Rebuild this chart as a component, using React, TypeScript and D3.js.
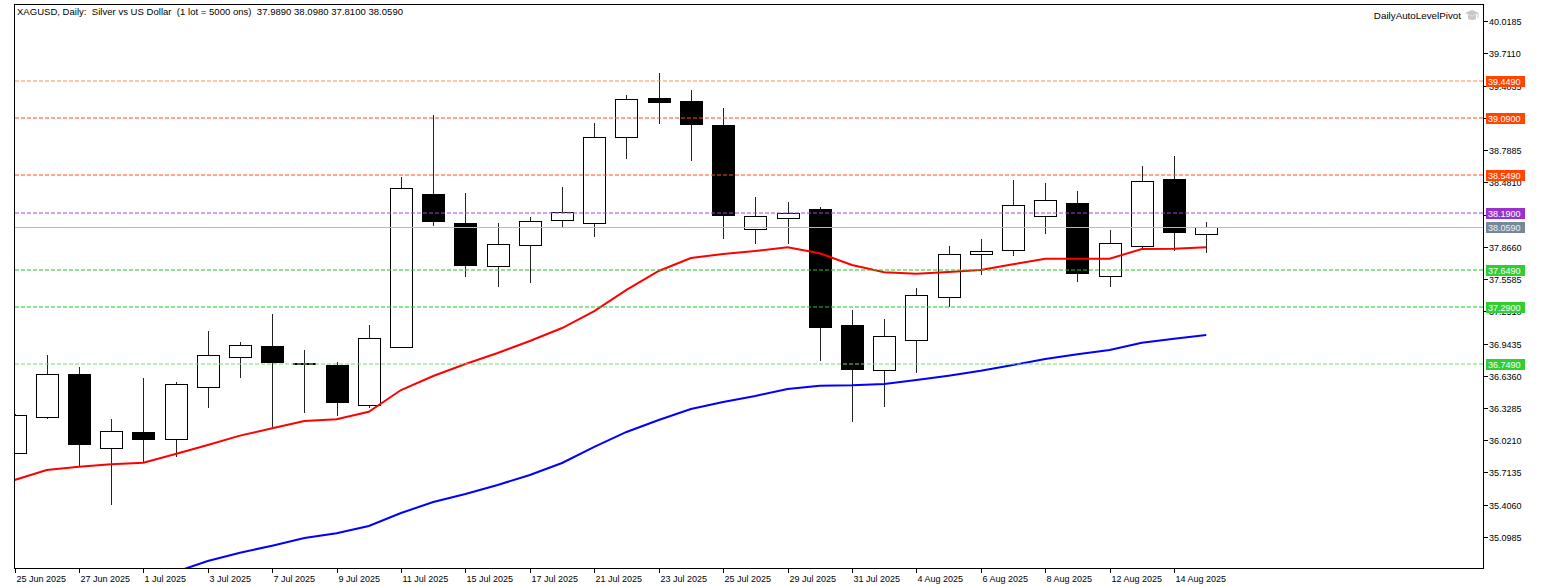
import React, { useEffect } from 'react';
import * as d3 from 'd3';

const dates = ['25 Jun 2025','26 Jun 2025','27 Jun 2025','30 Jun 2025','1 Jul 2025','2 Jul 2025','3 Jul 2025','4 Jul 2025','7 Jul 2025','8 Jul 2025','9 Jul 2025','10 Jul 2025','11 Jul 2025','14 Jul 2025','15 Jul 2025','16 Jul 2025','17 Jul 2025','18 Jul 2025','21 Jul 2025','22 Jul 2025','23 Jul 2025','24 Jul 2025','25 Jul 2025','28 Jul 2025','29 Jul 2025','30 Jul 2025','31 Jul 2025','1 Aug 2025','4 Aug 2025','5 Aug 2025','6 Aug 2025','7 Aug 2025','8 Aug 2025','11 Aug 2025','12 Aug 2025','13 Aug 2025','14 Aug 2025','15 Aug 2025'];

const opens = [35.902, 36.240, 36.656, 35.944, 36.100, 36.030, 36.529, 36.818, 36.917, 36.760, 36.736, 36.357, 36.913, 38.366, 38.095, 37.683, 37.883, 38.121, 38.090, 38.910, 39.287, 39.259, 39.027, 38.035, 38.140, 38.223, 37.117, 36.691, 36.980, 37.384, 37.794, 37.835, 38.162, 38.286, 37.584, 37.873, 38.515, 37.989];
const highs = [36.270, 36.834, 36.717, 36.224, 36.612, 36.579, 37.063, 36.958, 37.225, 36.879, 36.764, 37.120, 38.528, 39.122, 38.376, 38.090, 38.153, 38.436, 39.049, 39.310, 39.520, 39.358, 39.192, 38.340, 38.290, 38.242, 37.260, 37.174, 37.473, 37.876, 37.943, 38.500, 38.471, 38.395, 38.023, 38.636, 38.731, 38.098];
const lows = [35.890, 36.221, 35.766, 35.404, 35.811, 35.864, 36.331, 36.612, 36.145, 36.278, 36.252, 36.331, 36.898, 38.061, 37.575, 37.485, 37.523, 38.042, 37.956, 38.706, 39.034, 38.687, 37.937, 37.889, 37.895, 36.774, 36.198, 36.341, 36.662, 37.294, 37.600, 37.781, 37.985, 37.533, 37.485, 37.845, 37.823, 37.810];
const closes = [36.259, 36.656, 35.983, 36.109, 36.030, 36.560, 36.837, 36.932, 36.767, 36.748, 36.383, 36.996, 38.423, 38.112, 37.689, 37.895, 38.114, 38.200, 38.910, 39.275, 39.243, 39.034, 38.169, 38.156, 38.191, 37.104, 36.700, 37.018, 37.403, 37.797, 37.826, 38.267, 38.315, 37.613, 37.902, 38.496, 38.007, 38.059];

const maFast = [35.642, 35.737, 35.769, 35.792, 35.807, 35.890, 35.976, 36.065, 36.135, 36.205, 36.221, 36.293, 36.500, 36.634, 36.748, 36.853, 36.967, 37.091, 37.253, 37.454, 37.635, 37.759, 37.797, 37.826, 37.861, 37.804, 37.692, 37.622, 37.609, 37.625, 37.644, 37.699, 37.752, 37.752, 37.752, 37.845, 37.848, 37.861];
const maSlow = [34.336, 34.422, 34.507, 34.593, 34.679, 34.765, 34.870, 34.949, 35.016, 35.089, 35.134, 35.204, 35.327, 35.432, 35.509, 35.594, 35.690, 35.804, 35.957, 36.100, 36.214, 36.319, 36.386, 36.443, 36.510, 36.541, 36.545, 36.557, 36.596, 36.637, 36.684, 36.739, 36.796, 36.841, 36.882, 36.951, 36.989, 37.025];

const priceTicks = [40.0185, 39.7110, 39.4035, 39.0960, 38.7885, 38.4810, 38.1735, 37.8660, 37.5585, 37.2510, 36.9435, 36.6360, 36.3285, 36.0210, 35.7135, 35.4060, 35.0985];

const levelValues = [39.449, 39.09, 38.549, 38.19, 37.649, 37.29, 36.749];
const bidValue = 38.059;

const titleText = 'XAGUSD, Daily:  Silver vs US Dollar  (1 lot = 5000 ons)  37.9890 38.0980 37.8100 38.0590';
const indicatorName = 'DailyAutoLevelPivot';

// styles (kept apart from the data)
const levelLineColors = ['#FF8C5A', '#FF4F1A', '#FF4F1A', '#A347DD', '#1FC81F', '#1FC81F', '#6BE06B'];
const levelLabelColors = ['#FF4500', '#FF4500', '#FF4500', '#9932CC', '#32CD32', '#32CD32', '#32CD32'];

const W = 1541;
const H = 586;
const FRAME = { left: 14.5, top: 4.5, right: 1483.5, bottom: 568.5 };
const FONT = '"Liberation Sans", Arial, sans-serif';

export default function App() {
  useEffect(() => {
    document.body.style.margin = '0';
  }, []);

  const step = 32.21;
  const x = d3.scaleLinear().domain([0, dates.length - 1]).range([14.5, 14.5 + (dates.length - 1) * step]);
  const y = d3.scaleLinear().domain([35.0985, 40.0185]).range([537, 21]);

  const crisp = (v: number) => Math.round(v) + 0.5;
  const bodyW = 22;

  const line = d3.line<number>().x((_, i) => x(i)).y((d) => y(d));

  const xTickIdx = dates.map((_, i) => i).filter((i) => i % 2 === 0);

  return (
    <svg width={W} height={H} style={{ position: 'absolute', left: 0, top: 0, display: 'block', background: '#fff' }} fontFamily={FONT}>
      <defs>
        <clipPath id="plot">
          <rect x={15} y={5} width={1468} height={563} />
        </clipPath>
      </defs>
      <rect x={0} y={0} width={W} height={H} fill="#ffffff" />

      <g clipPath="url(#plot)">
        {dates.map((d, i) => {
          const cx = crisp(x(i));
          const o = opens[i], c = closes[i];
          const top = y(Math.max(o, c));
          const bot = y(Math.min(o, c));
          const bull = c >= o;
          const bx = Math.round(x(i) - bodyW / 2) + 0.5;
          const by = Math.round(top) + 0.5;
          const bh = Math.max(1, Math.round(bot) - Math.round(top));
          return (
            <g key={d}>
              <line x1={cx} x2={cx} y1={Math.round(y(highs[i]))} y2={Math.round(y(lows[i]))} stroke="#222" strokeWidth={1} />
              <rect x={bx} y={by} width={bodyW} height={bh} fill={bull ? '#fff' : '#000'} stroke="#000" strokeWidth={1} />
            </g>
          );
        })}

        <path d={line(maSlow) || ''} fill="none" stroke="#0000FF" strokeWidth={2} />
        <path d={line(maFast) || ''} fill="none" stroke="#FF0000" strokeWidth={2} />

        {levelValues.map((v, i) => (
          <line key={v} x1={15} x2={1483} y1={Math.round(y(v))} y2={Math.round(y(v))} stroke={levelLineColors[i]} strokeWidth={1.2} strokeDasharray="4,2" />
        ))}
        <line x1={15} x2={1483} y1={crisp(y(bidValue))} y2={crisp(y(bidValue))} stroke="#B4BDC7" strokeWidth={1} shapeRendering="crispEdges" />
      </g>

      <text x={17} y={15} fontSize={9.5} fill="#000" textLength={386} lengthAdjust="spacing" style={{ whiteSpace: 'pre' }} xmlSpace="preserve">{titleText}</text>
      <text x={1461} y={19} fontSize={9.8} fill="#000" textAnchor="end">{indicatorName}</text>
      <g transform="translate(1472,16)" fill="#C8C8C8" stroke="none">
        <path d="M-7,-3 L0,-6 L7,-3 L0,0 Z" />
        <path d="M-4,-1.5 L-4,3 Q0,5 4,3 L4,-1.5 L0,0.5 Z" />
        <rect x={5.5} y={-3} width={1} height={5} />
      </g>

      <rect x={FRAME.left} y={FRAME.top} width={FRAME.right - FRAME.left} height={FRAME.bottom - FRAME.top} fill="none" stroke="#000" strokeWidth={1} />

      {priceTicks.map((v) => {
        const ty = Math.round(y(v)) + 0.5;
        return (
          <g key={v}>
            <line x1={1484} x2={1488} y1={ty} y2={ty} stroke="#000" strokeWidth={1} />
            <text x={1489} y={ty + 3.5} fontSize={9} fill="#000">{v.toFixed(4)}</text>
          </g>
        );
      })}

      {levelValues.map((v, i) => {
        const ly = y(v);
        return (
          <g key={'lab' + v}>
            <rect x={1486} y={Math.round(ly) - 5} width={39} height={11} fill={levelLabelColors[i]} />
            <text x={1488} y={Math.round(ly) + 4} fontSize={9} fill="#fff">{v.toFixed(4)}</text>
          </g>
        );
      })}
      {(() => {
        const ly = y(bidValue);
        return (
          <g>
            <rect x={1486} y={Math.round(ly) - 5} width={39} height={11} fill="#778899" />
            <text x={1488} y={Math.round(ly) + 4} fontSize={9} fill="#EEF2F5">{bidValue.toFixed(4)}</text>
          </g>
        );
      })()}

      {xTickIdx.map((i) => {
        const tx = crisp(x(i));
        return (
          <g key={'xt' + i}>
            <line x1={tx} x2={tx} y1={569} y2={573} stroke="#000" strokeWidth={1} />
            <text x={tx + 1} y={582} fontSize={9} fill="#000">{dates[i]}</text>
          </g>
        );
      })}
    </svg>
  );
}
